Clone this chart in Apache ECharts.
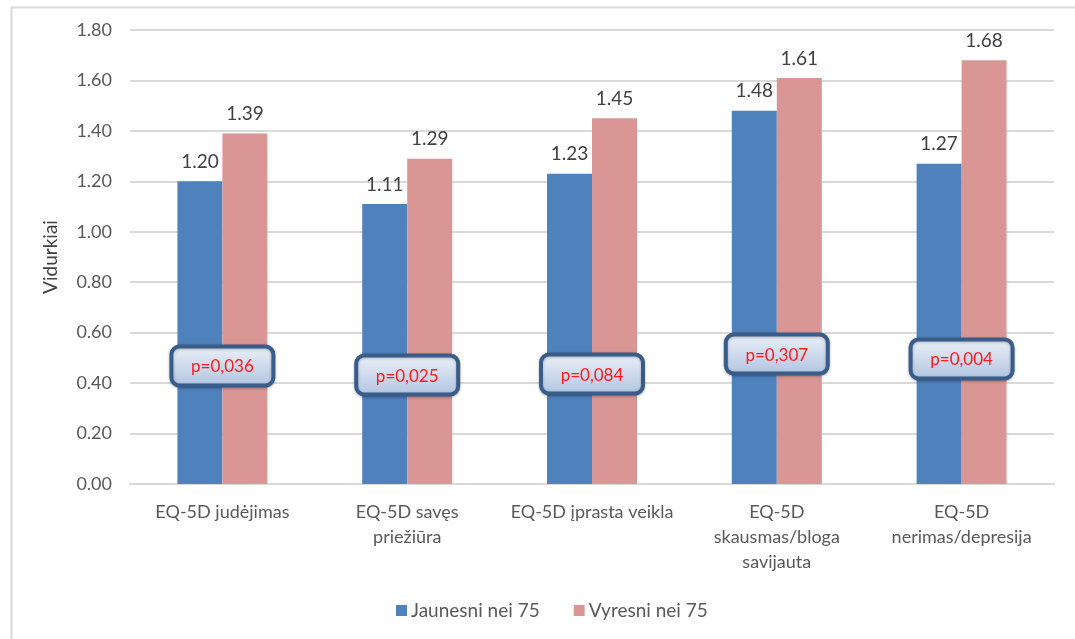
<!DOCTYPE html>
<html>
<head>
<meta charset="utf-8">
<script src="https://cdn.jsdelivr.net/npm/echarts@6/dist/echarts.min.js"></script>
<style>
  html, body { margin: 0; padding: 0; background: #ffffff; }
  #chart { width: 1075px; height: 639px; }
</style>
</head>
<body>
<div id="chart"></div>
<script>
// EQ-5D dimension means by age group
var categories = [
  'EQ-5D judėjimas',
  'EQ-5D savęs\npriežiūra',
  'EQ-5D įprasta veikla',
  'EQ-5D\nskausmas/bloga\nsavijauta',
  'EQ-5D\nnerimas/depresija'
];
var youngerValues = [1.20, 1.11, 1.23, 1.48, 1.27];
var olderValues = [1.39, 1.29, 1.45, 1.61, 1.68];
var seriesNames = ['Jaunesni nei 75', 'Vyresni nei 75'];

// p-value callouts and the axis height at which each sits
var pLabels = ['p=0,036', 'p=0,025', 'p=0,084', 'p=0,307', 'p=0,004'];
var pLevels = [0.468, 0.432, 0.436, 0.515, 0.496];

var yTicks = { min: 0, max: 1.8, interval: 0.2 };

var FONT = 'Lato, "Open Sans", sans-serif';

var pData = pLabels.map(function (t, i) { return [i, pLevels[i], t]; });

var chart = echarts.init(document.getElementById('chart'));
chart.setOption({
  backgroundColor: '#ffffff',
  animation: false,
  textStyle: { fontFamily: FONT },
  graphic: [{
    type: 'rect',
    left: 9, top: 5,
    shape: { width: 1100, height: 700 },
    style: { fill: 'none', stroke: '#D9D9D9', lineWidth: 2 },
    silent: true,
    z: -10
  }],
  grid: { left: 130, right: 21, top: 30, bottom: 155 },
  legend: {
    data: seriesNames,
    left: 391,
    top: 596,
    itemWidth: 11,
    itemHeight: 11,
    itemGap: 34,
    icon: 'rect',
    textStyle: { fontSize: 19, color: '#595959', fontFamily: FONT, padding: [0, 0, 0, -1] }
  },
  xAxis: {
    type: 'category',
    data: categories,
    axisLine: { lineStyle: { color: '#D9D9D9', width: 2 } },
    axisTick: { show: false },
    axisLabel: {
      interval: 0,
      margin: 16,
      fontSize: 18,
      lineHeight: 25,
      color: '#595959',
      fontFamily: FONT
    }
  },
  yAxis: {
    type: 'value',
    min: yTicks.min,
    max: yTicks.max,
    interval: yTicks.interval,
    name: 'Vidurkiai',
    nameLocation: 'middle',
    nameGap: 70,
    nameTextStyle: { fontSize: 19, color: '#404040', fontFamily: FONT },
    axisLine: { show: false },
    axisTick: { show: false },
    axisLabel: {
      margin: 18,
      fontSize: 18,
      color: '#595959',
      fontFamily: FONT,
      formatter: function (v) { return v.toFixed(2); }
    },
    splitLine: { lineStyle: { color: '#D9D9D9', width: 2 } }
  },
  series: [
    {
      name: seriesNames[0],
      type: 'bar',
      data: youngerValues,
      barWidth: 45,
      barGap: '0%',
      itemStyle: { color: '#4F81BD' },
      label: {
        show: true,
        position: 'top',
        distance: 10,
        fontSize: 19,
        color: '#404040',
        fontFamily: FONT,
        formatter: function (p) { return p.value.toFixed(2); }
      }
    },
    {
      name: seriesNames[1],
      type: 'bar',
      data: olderValues,
      barWidth: 45,
      barGap: '0%',
      itemStyle: { color: '#D99694' },
      label: {
        show: true,
        position: 'top',
        distance: 10,
        fontSize: 19,
        color: '#404040',
        fontFamily: FONT,
        formatter: function (p) { return p.value.toFixed(2); }
      }
    },
    {
      name: 'p',
      type: 'custom',
      data: pData,
      z: 10,
      encode: { x: 0, y: 1 },
      renderItem: function (params, api) {
        var pt = api.coord([api.value(0), api.value(1)]);
        var w = 102, h = 39;
        return {
          type: 'group',
          children: [
            {
              type: 'rect',
              shape: { x: pt[0] - w / 2, y: pt[1] - h / 2, width: w, height: h, r: 8 },
              style: {
                fill: new echarts.graphic.LinearGradient(0, 0, 0, 1, [
                  { offset: 0, color: '#EEF2F9' },
                  { offset: 1, color: '#AFC3E0' }
                ]),
                stroke: '#385D8A',
                lineWidth: 4,
                shadowBlur: 3,
                shadowColor: 'rgba(0,0,0,0.25)',
                shadowOffsetY: 1
              }
            },
            {
              type: 'text',
              style: {
                text: pData[params.dataIndex][2],
                x: pt[0],
                y: pt[1] + 1,
                align: 'center',
                verticalAlign: 'middle',
                fill: '#FF1A1A',
                fontSize: 17,
                fontFamily: FONT
              }
            }
          ]
        };
      }
    }
  ]
});
</script>
</body>
</html>
